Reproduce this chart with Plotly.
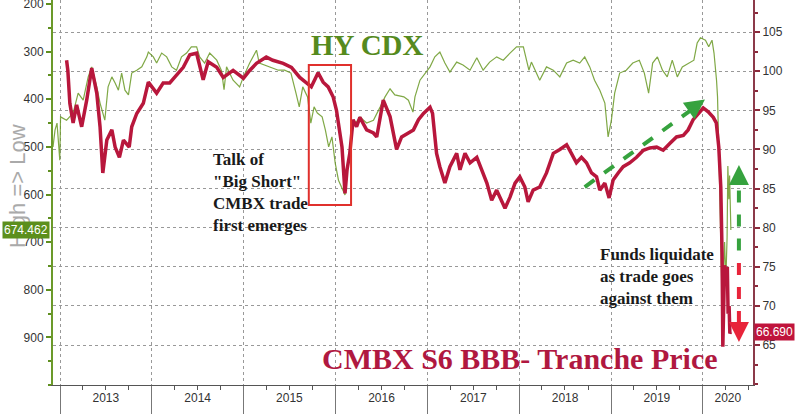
import plotly.graph_objects as go

# ---------------- data ----------------
cmbx_dates = ["2013-01-27","2013-02-01","2013-02-09","2013-02-22","2013-03-08","2013-03-28","2013-04-17","2013-05-07","2013-05-27","2013-06-09","2013-06-20","2013-07-06","2013-07-26","2013-08-08","2013-08-25","2013-09-10","2013-10-03","2013-10-13","2013-11-02","2013-11-28","2013-12-18",
"2014-01-20","2014-02-15","2014-03-13","2014-04-09","2014-05-06","2014-06-01","2014-06-28","2014-07-24","2014-08-13","2014-09-16","2014-10-12","2014-11-20","2014-12-31",
"2015-01-25","2015-02-21","2015-04-01","2015-04-27","2015-06-07","2015-07-10","2015-08-12","2015-09-08","2015-09-27","2015-10-24","2015-11-13","2015-12-03","2015-12-23",
"2016-01-05","2016-01-18","2016-01-27","2016-02-08","2016-02-16","2016-02-27","2016-03-11","2016-03-25","2016-04-07","2016-05-04","2016-05-31","2016-06-13","2016-07-09","2016-08-05","2016-08-31","2016-09-20","2016-10-17","2016-11-06","2016-11-26","2016-12-16",
"2017-01-11","2017-01-21","2017-02-06","2017-02-19","2017-03-11","2017-03-31","2017-04-27","2017-05-10","2017-05-30","2017-06-19","2017-07-16","2017-08-05","2017-08-25","2017-09-13","2017-10-03","2017-11-05","2017-11-25","2017-12-15",
"2018-01-03","2018-01-23","2018-02-05","2018-02-25","2018-03-23","2018-04-19","2018-05-16","2018-06-11","2018-07-08","2018-07-27","2018-08-16","2018-09-05","2018-09-25","2018-10-15","2018-11-04","2018-11-17","2018-12-07","2018-12-24",
"2019-01-09","2019-01-29","2019-02-18","2019-03-16","2019-04-12","2019-05-09","2019-06-04","2019-07-01","2019-07-27","2019-08-23","2019-09-18","2019-10-15","2019-11-03","2019-11-23","2019-12-13",
"2020-01-02","2020-01-22","2020-02-11","2020-02-23","2020-03-04","2020-03-12","2020-03-17","2020-03-20","2020-03-24","2020-03-27","2020-04-01","2020-04-07","2020-04-10","2020-04-14","2020-04-17","2020-04-21"]
cmbx_values = [101.4,100.1,95.9,93.4,95.7,92.9,96.3,100.4,97.2,92.9,87.0,91.2,92.5,90.3,89.0,91.2,90.3,92.9,94.6,95.9,98.6,
97.2,98.5,98.5,99.5,100.5,102.1,102.3,98.9,101.2,100.5,99.2,100.1,99.1,
100.1,101.0,101.8,101.4,101.0,100.5,99.2,98.5,98.0,99.8,98.6,98.0,96.7,
95.0,92.5,90.3,84.4,87.4,89.5,93.8,92.9,94.1,92.5,92.1,91.6,96.3,94.2,90.0,91.6,92.1,92.5,93.8,94.6,
95.4,94.6,89.5,87.8,85.7,87.8,89.5,87.4,89.5,88.3,89.0,87.4,85.7,83.5,84.8,82.5,83.9,85.7,
86.5,85.2,83.3,84.8,85.2,87.0,89.5,90.0,90.6,89.5,88.3,89.0,88.3,87.0,86.5,84.8,85.7,83.8,
86.1,87.0,87.8,88.3,89.0,89.9,90.2,90.3,89.9,90.8,91.6,91.8,92.5,93.8,94.6,
95.3,94.8,94.1,93.4,90.3,85.2,76.8,64.8,70.0,75.2,73.5,75.0,69.0,70.0,66.5,66.69]

hy_dates = ["2012-12-04","2012-12-12","2012-12-20","2012-12-31","2013-01-03","2013-01-27","2013-02-22","2013-03-14","2013-04-03","2013-04-23","2013-05-07","2013-05-27","2013-06-09","2013-06-28","2013-07-11","2013-07-26","2013-08-08","2013-08-21","2013-09-03","2013-09-16","2013-09-30","2013-10-13","2013-11-02","2013-11-22","2013-12-12","2013-12-18",
"2014-01-07","2014-01-20","2014-02-09","2014-03-01","2014-03-21","2014-04-09","2014-04-29","2014-05-19","2014-06-07","2014-06-28","2014-07-10","2014-07-30","2014-08-19","2014-09-16","2014-10-05","2014-10-15","2014-10-25","2014-11-20","2014-12-16","2014-12-31",
"2015-01-25","2015-02-21","2015-03-04","2015-04-11","2015-05-19","2015-06-13","2015-07-08","2015-07-28","2015-08-10","2015-08-24","2015-09-12","2015-09-25","2015-10-08","2015-10-21","2015-11-09","2015-11-22","2015-12-05","2015-12-18","2015-12-31",
"2016-01-13","2016-02-08","2016-02-18","2016-02-27","2016-03-11","2016-04-07","2016-05-04","2016-05-31","2016-06-27","2016-07-16","2016-08-05","2016-08-24","2016-09-29","2016-10-17","2016-11-04","2016-11-12","2016-12-02","2016-12-22",
"2017-01-11","2017-01-30","2017-02-19","2017-03-11","2017-03-31","2017-04-27","2017-05-22","2017-06-19","2017-07-16","2017-08-10","2017-09-05","2017-10-03","2017-10-29","2017-11-25","2017-12-21",
"2018-01-17","2018-02-08","2018-02-18","2018-03-23","2018-04-19","2018-05-16","2018-06-11","2018-07-08","2018-08-03","2018-08-29","2018-09-18","2018-10-08","2018-10-27","2018-11-17","2018-12-07","2018-12-20",
"2019-01-02","2019-01-15","2019-02-04","2019-03-02","2019-03-28","2019-04-23","2019-05-13","2019-05-30","2019-06-15","2019-07-04","2019-07-24","2019-08-12","2019-09-01","2019-09-21","2019-10-11","2019-11-06","2019-11-26","2019-12-09","2019-12-22",
"2020-01-11","2020-01-24","2020-02-06","2020-02-14","2020-02-24","2020-02-28","2020-03-06","2020-03-12","2020-03-20","2020-03-24","2020-03-27","2020-04-01","2020-04-06","2020-04-09","2020-04-13","2020-04-16","2020-04-21"]
hy_values = [500,465,450,528,437,444,429,387,402,353,332,374,408,444,374,353,366,381,345,381,391,345,339,332,311,301,
311,324,303,311,332,339,311,303,290,290,311,324,303,318,340,380,332,360,374,353,
324,297,324,332,339,339,345,387,416,374,395,450,416,429,437,465,500,479,534,
570,601,549,500,458,437,450,444,416,395,378,391,395,402,427,395,360,345,
332,311,301,324,343,322,328,339,313,339,322,311,318,303,290,
290,339,322,360,332,339,353,324,318,324,311,332,360,381,408,479,
444,387,345,339,324,318,345,387,324,311,339,353,318,353,332,324,318,282,271,
276,290,276,303,360,395,549,723,906,740,700,780,690,540,610,560,674.462]

year_labels = ["2013","2014","2015","2016","2017","2018","2019","2020"]
year_label_pos = ["2013-07-02","2014-07-02","2015-07-02","2016-07-02","2017-07-02","2018-07-02","2019-07-02","2020-04-09"]

left_ticks = [200, 300, 400, 500, 600, 700, 800, 900]
right_ticks = [65, 70, 75, 80, 85, 90, 95, 100, 105]

RED = "#b8173c"
GREEN = "#6a9a26"
X_RANGE = ["2012-12-04", "2020-07-18"]

fig = go.Figure()
fig.add_trace(go.Scatter(x=cmbx_dates, y=cmbx_values, mode="lines", yaxis="y2",
                         line=dict(color=RED, width=3.5), name="CMBX"))
fig.add_trace(go.Scatter(x=hy_dates, y=hy_values, mode="lines", yaxis="y",
                         line=dict(color=GREEN, width=1.2), opacity=0.85, name="HY CDX"))
# dummy trace to activate xaxis2 (year labels)
fig.add_trace(go.Scatter(x=[X_RANGE[0]], y=[None], xaxis="x2", yaxis="y", showlegend=False,
                         hoverinfo="skip"))

tickfont = dict(family="Liberation Sans, Arial, sans-serif", size=12, color="#333")

fig.update_layout(
    width=800, height=414,
    margin=dict(l=53, r=47, t=0, b=29, autoexpand=False),
    paper_bgcolor="white", plot_bgcolor="white",
    showlegend=False,
    xaxis=dict(type="date", range=X_RANGE, tick0="2013-01-01", dtick="M12", automargin=False,
               ticks="outside", ticklen=29, tickcolor="#777", tickwidth=1,
               showticklabels=False, showgrid=True, gridcolor="#999",
               griddash="dot", gridwidth=1, showline=True, linecolor="#555",
               linewidth=1, zeroline=False,
               minor=dict(ticks="outside", dtick="M3", ticklen=4, tickcolor="#555", showgrid=False)),
    xaxis2=dict(type="date", range=X_RANGE, overlaying="x", anchor="y", side="bottom",
                tickmode="array", tickvals=year_label_pos, ticktext=year_labels, automargin=False,
                ticks="", showgrid=False, showline=False, zeroline=False,
                tickfont=tickfont, ticklabelstandoff=4),
    yaxis=dict(range=[1000, 191.6], tickmode="array", tickvals=left_ticks, automargin=False,
               ticks="outside", ticklen=5, tickcolor="#5f8f1f", tickwidth=2,
               showline=True, linecolor="#6b9a2a", linewidth=2, ticklabeloverflow="allow",
               showgrid=False, zeroline=False, tickfont=tickfont,
               minor=dict(ticks="outside", dtick=50, ticklen=3, tickcolor="#5f8f1f")),
    yaxis2=dict(range=[59.9, 109.1], overlaying="y", side="right", anchor="x", automargin=False,
                tickmode="array", tickvals=right_ticks,
                ticks="outside", ticklen=5, tickcolor="#8c2a3c", tickwidth=2,
                showline=True, linecolor="#8c3a4a", linewidth=2,
                showgrid=True, gridcolor="#999", griddash="dot", gridwidth=1,
                zeroline=False, tickfont=tickfont,
                minor=dict(ticks="outside", dtick=2.5, ticklen=3, tickcolor="#8c2a3c")),
)

# red box around 2015-16 episode
fig.add_shape(type="rect", xref="x", yref="y2", x0="2015-09-17", x1="2016-03-03",
              y0=82.9, y1=100.8, line=dict(color="#e0302c", width=2), fillcolor="rgba(0,0,0,0)")

# dashed arrows
ARW_G = "#36a23e"
ARW_R = "#e8243a"
fig.add_shape(type="line", xref="x", yref="y2", x0="2018-09-18", y0=85.2, x1="2019-12-05", y1=95.5,
              line=dict(color=ARW_G, width=4, dash="dash"))
fig.add_annotation(x="2020-01-09", y=96.4, xref="x", yref="y2", ax=-14, ay=10, text="",
                   showarrow=True, arrowhead=2, arrowsize=1, arrowwidth=4, arrowcolor=ARW_G)
fig.add_shape(type="line", xref="x", yref="y2", x0="2020-05-23", y0=77.1, x1="2020-05-23", y1=85.4,
              line=dict(color=ARW_G, width=4, dash="dash"))
fig.add_annotation(x="2020-05-23", y=88.0, xref="x", yref="y2", ax=0, ay=16, text="",
                   showarrow=True, arrowhead=2, arrowsize=1, arrowwidth=4, arrowcolor=ARW_G)
fig.add_shape(type="line", xref="x", yref="y2", x0="2020-05-23", y0=75.5, x1="2020-05-23", y1=67.8,
              line=dict(color=ARW_R, width=4, dash="dash"))
fig.add_annotation(x="2020-05-23", y=65.4, xref="x", yref="y2", ax=0, ay=-16, text="",
                   showarrow=True, arrowhead=2, arrowsize=1, arrowwidth=4, arrowcolor=ARW_R)

serif = "Liberation Serif, Times New Roman, serif"
fig.add_annotation(xref="paper", yref="paper", x=0.4486, y=0.883, xanchor="center", yanchor="middle",
                   text="<b>HY CDX</b>",
                   showarrow=False, font=dict(family=serif, size=29, color="#558a1e"))
fig.add_annotation(xref="paper", yref="paper", x=0.667, y=0.070, xanchor="center", yanchor="middle",
                   text="<b>CMBX S6 BBB- Tranche Price</b>",
                   showarrow=False, font=dict(family=serif, size=30, color="#b01840"))
fig.add_annotation(xref="paper", yref="paper", x=0.2257, y=0.501, xanchor="left", yanchor="middle",
                   align="left",
                   text="<b>Talk of<br>\"Big Short\"<br>CMBX trade<br>first emerges</b>",
                   showarrow=False, font=dict(family=serif, size=17, color="#1a1a1a"))
fig.add_annotation(xref="paper", yref="paper", x=0.7786, y=0.283, xanchor="left", yanchor="middle",
                   align="left",
                   text="<b>Funds liquidate<br>as trade goes<br>against them</b>",
                   showarrow=False, font=dict(family=serif, size=17, color="#1a1a1a"))

# axis title
fig.add_annotation(xref="paper", yref="paper", x=-0.05, y=0.517, xanchor="center", yanchor="middle",
                   text="High => Low", textangle=-90, showarrow=False,
                   font=dict(family="Liberation Sans, Arial, sans-serif", size=22, color="#aaaaaa"))

# last value tags
fig.add_annotation(xref="paper", yref="y", x=0, y=hy_values[-1], xanchor="right", yanchor="middle",
                   xshift=-3, text=f"{hy_values[-1]:.3f}", showarrow=False, bgcolor="#5c8f1c",
                   borderpad=1, font=dict(family="Liberation Sans, Arial, sans-serif", size=12, color="white"))
fig.add_annotation(xref="paper", yref="y2", x=1, y=cmbx_values[-1], xanchor="left", yanchor="middle",
                   xshift=1, text=f"{cmbx_values[-1]:.3f}", showarrow=False, bgcolor="#c0143c",
                   borderpad=1, font=dict(family="Liberation Sans, Arial, sans-serif", size=12, color="white"))

fig.write_html("out.html", config={"displayModeBar": False},
               post_script="document.body.style.margin='0';document.body.style.padding='0';")
